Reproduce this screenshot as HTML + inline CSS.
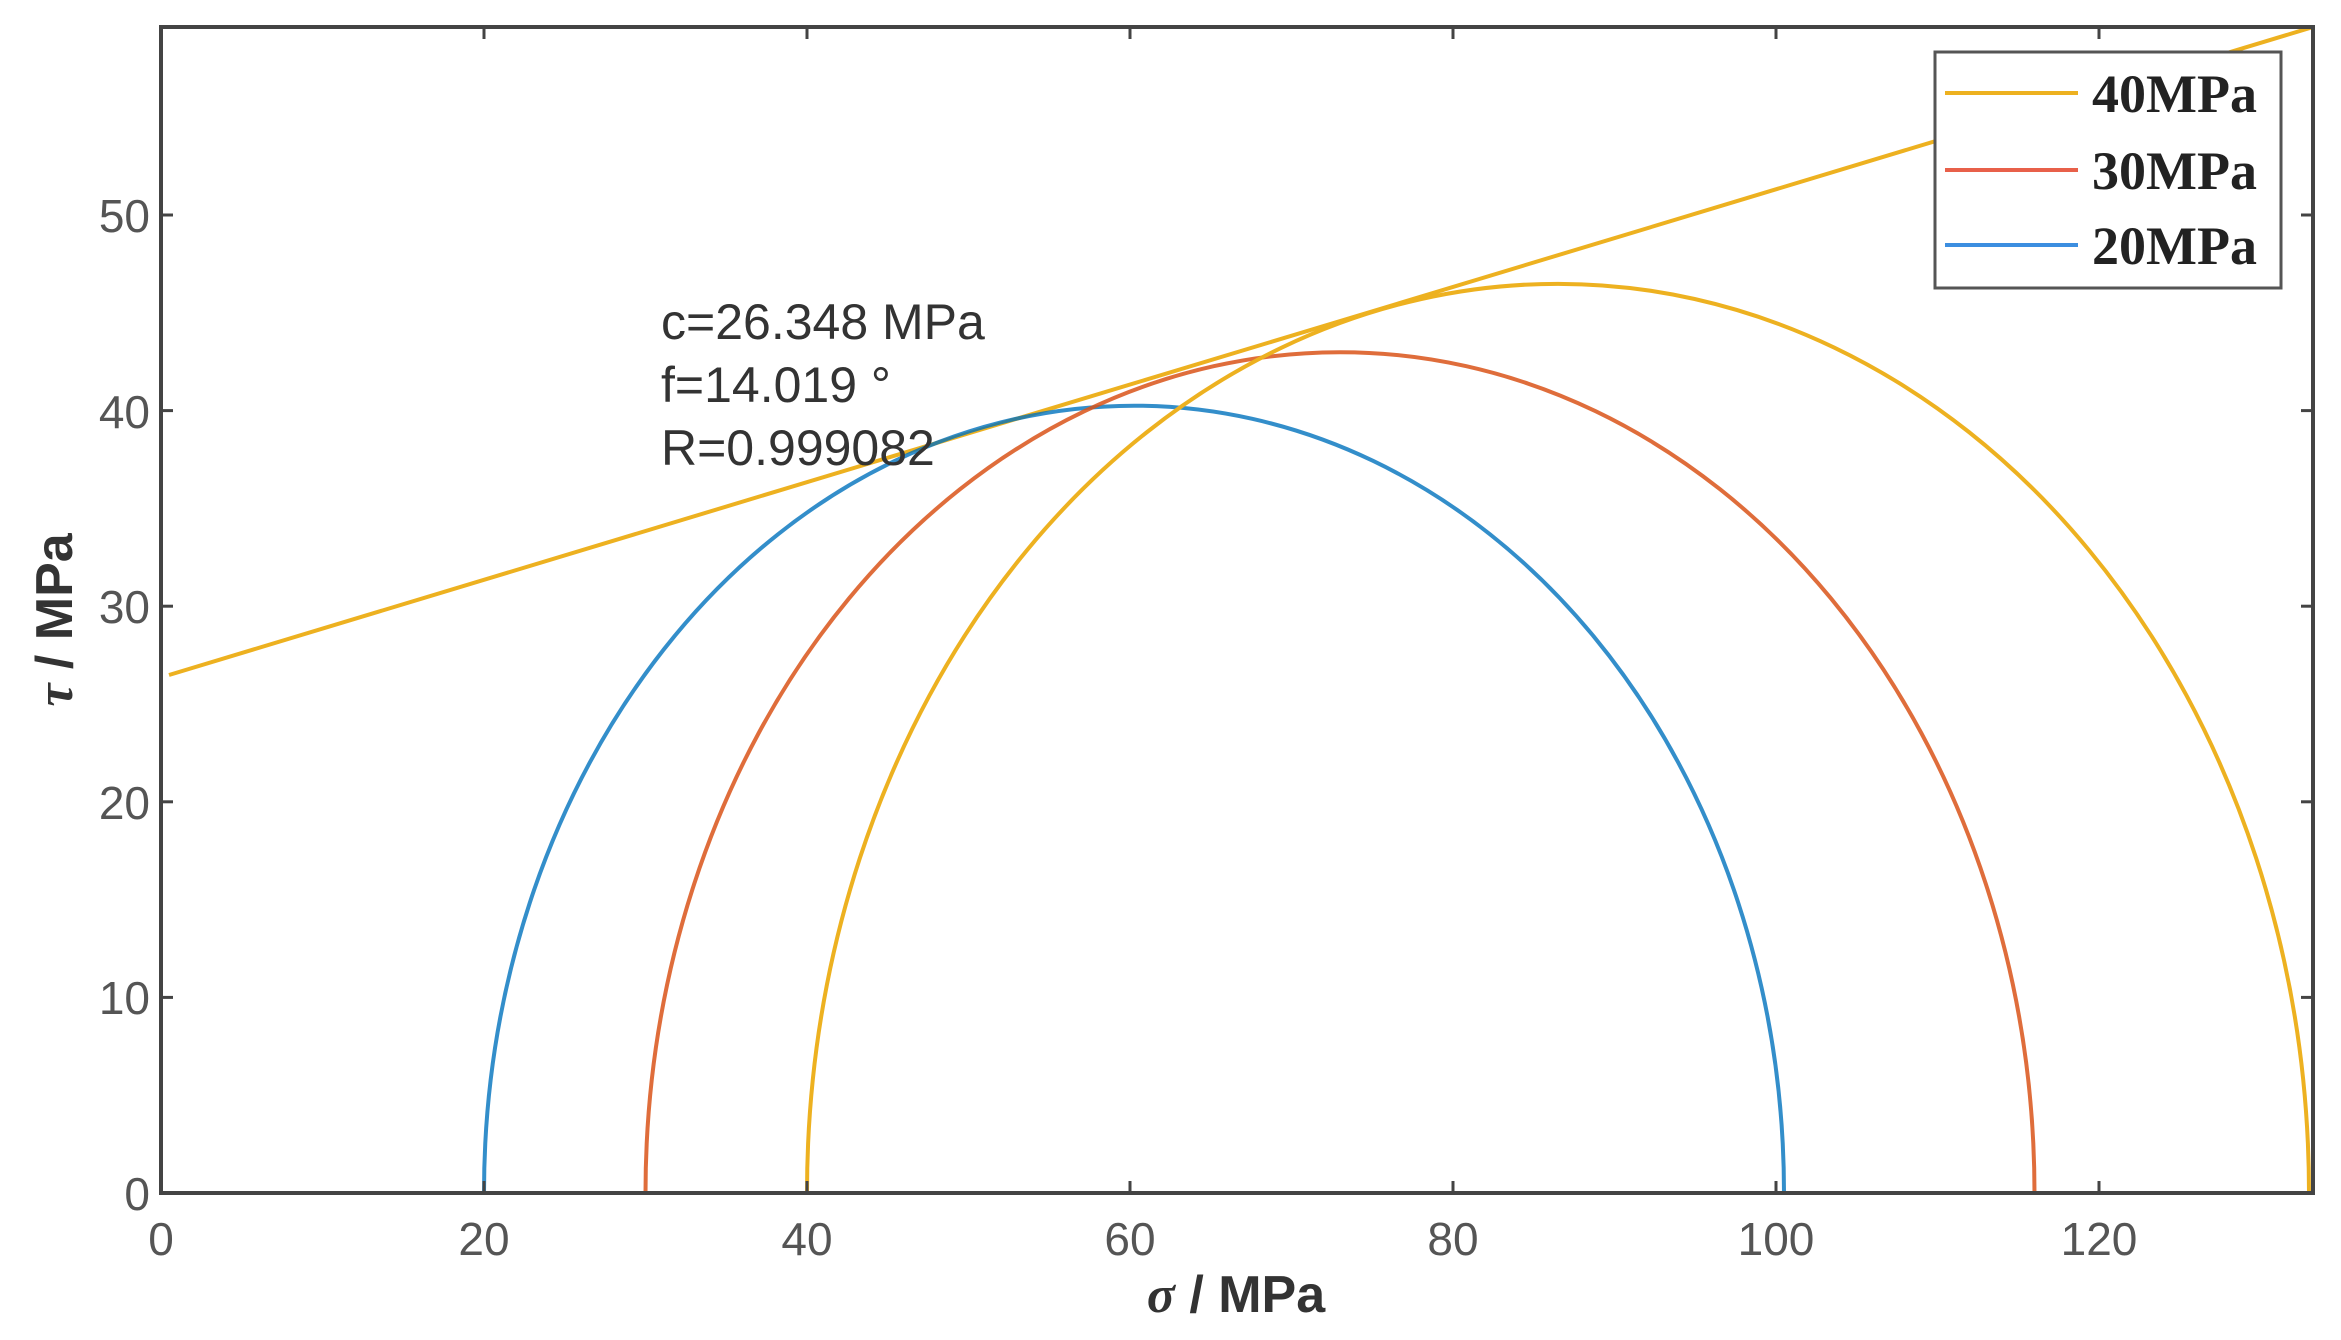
<!DOCTYPE html>
<html><head><meta charset="utf-8"><style>
html,body{margin:0;padding:0;background:#fff;}
svg{display:block;}
</style></head><body>
<svg width="2341" height="1340" viewBox="0 0 2341 1340" xmlns="http://www.w3.org/2000/svg">
<defs><clipPath id="c"><rect x="161" y="27" width="2152" height="1166"/></clipPath></defs>
<g clip-path="url(#c)" fill="none" stroke-width="4">
<path d="M169 675 L2313 27" stroke="#EDB120"/>
<path d="M484 1193 A650 787.3 0 0 1 1784 1193" stroke="#0072BD" stroke-opacity="0.8"/>
<path d="M645.5 1193 A694.5 841.1 0 0 1 2034.5 1193" stroke="#D95319" stroke-opacity="0.85"/>
<path d="M807 1193 A751 909.5 0 0 1 2309 1193" stroke="#EDB120"/>
</g>
<g stroke="#444" stroke-width="4" fill="none">
<rect x="161" y="27" width="2152" height="1166"/>
</g>
<g stroke="#444" stroke-width="3">
<line x1="161" y1="1193" x2="161" y2="1181"/><line x1="484" y1="1193" x2="484" y2="1181"/><line x1="807" y1="1193" x2="807" y2="1181"/><line x1="1130" y1="1193" x2="1130" y2="1181"/><line x1="1453" y1="1193" x2="1453" y2="1181"/><line x1="1776" y1="1193" x2="1776" y2="1181"/><line x1="2099" y1="1193" x2="2099" y2="1181"/>
<line x1="484" y1="27" x2="484" y2="39"/><line x1="807" y1="27" x2="807" y2="39"/><line x1="1130" y1="27" x2="1130" y2="39"/><line x1="1453" y1="27" x2="1453" y2="39"/><line x1="1776" y1="27" x2="1776" y2="39"/><line x1="2099" y1="27" x2="2099" y2="39"/>
<line x1="161" y1="997.4" x2="173" y2="997.4"/><line x1="161" y1="801.8" x2="173" y2="801.8"/><line x1="161" y1="606.2" x2="173" y2="606.2"/><line x1="161" y1="410.6" x2="173" y2="410.6"/><line x1="161" y1="215" x2="173" y2="215"/>
<line x1="2313" y1="997.4" x2="2301" y2="997.4"/><line x1="2313" y1="801.8" x2="2301" y2="801.8"/><line x1="2313" y1="606.2" x2="2301" y2="606.2"/><line x1="2313" y1="410.6" x2="2301" y2="410.6"/><line x1="2313" y1="215" x2="2301" y2="215"/>
</g>
<g font-family="Liberation Sans, sans-serif" font-size="46" fill="#555" text-anchor="middle">
<text x="161" y="1255">0</text><text x="484" y="1255">20</text><text x="807" y="1255">40</text><text x="1130" y="1255">60</text><text x="1453" y="1255">80</text><text x="1776" y="1255">100</text><text x="2099" y="1255">120</text>
</g>
<g font-family="Liberation Sans, sans-serif" font-size="46" fill="#555" text-anchor="end">
<text x="150" y="1210">0</text><text x="150" y="1014">10</text><text x="150" y="819">20</text><text x="150" y="623">30</text><text x="150" y="428">40</text><text x="150" y="232">50</text>
</g>
<text x="1236" y="1312" font-family="Liberation Sans, sans-serif" font-size="52" font-weight="bold" fill="#333" text-anchor="middle"><tspan font-family="Liberation Serif, serif" font-style="italic">σ</tspan> / MPa</text>
<text transform="translate(72,620) rotate(-90)" font-family="Liberation Sans, sans-serif" font-size="52" font-weight="bold" fill="#333" text-anchor="middle"><tspan font-family="Liberation Serif, serif" font-style="italic">τ</tspan> / MPa</text>
<g font-family="Liberation Sans, sans-serif" font-size="50" fill="#333">
<text x="661" y="339">c=26.348 MPa</text>
<text x="661" y="402">f=14.019 °</text>
<text x="661" y="465">R=0.999082</text>
</g>
<rect x="1935" y="52" width="346" height="236" fill="#fff" stroke="#555" stroke-width="3"/>
<g stroke-width="4">
<line x1="1945" y1="93" x2="2078" y2="93" stroke="#EDB120"/>
<line x1="1945" y1="170" x2="2078" y2="170" stroke="#E8604A"/>
<line x1="1945" y1="245" x2="2078" y2="245" stroke="#3C8EE0"/>
</g>
<g font-family="Liberation Serif, serif" font-size="54" font-weight="bold" fill="#222">
<text x="2092" y="112">40MPa</text>
<text x="2092" y="189">30MPa</text>
<text x="2092" y="264">20MPa</text>
</g>
</svg>
</body></html>
